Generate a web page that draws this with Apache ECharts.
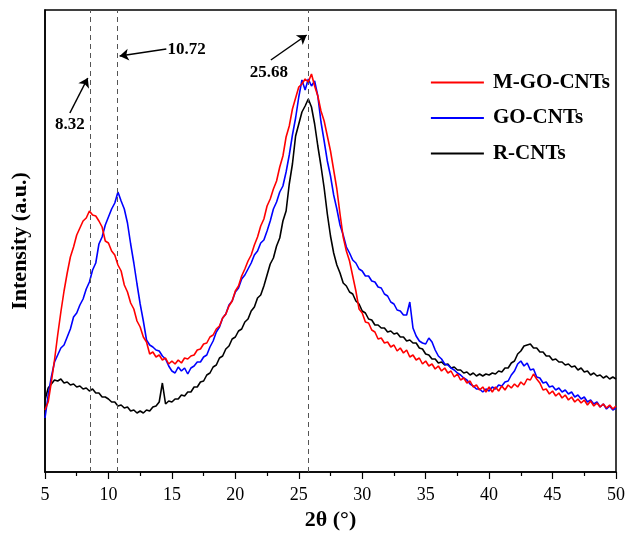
<!DOCTYPE html>
<html>
<head>
<meta charset="utf-8">
<script src="https://cdn.jsdelivr.net/npm/echarts@6/dist/echarts.min.js"></script>
<style>html,body{margin:0;padding:0;background:#fff}#c{width:628px;height:536px}</style>
</head>
<body>
<div id="c"></div>
<script>
// 2θ sampling grid (degrees)
const twoTheta = [
 5.0,5.25,5.5,5.75,6.0,6.25,6.5,6.75,7.0,7.25,7.5,7.75,8.0,8.25,8.5,8.75,9.0,9.25,9.5,9.75,
 10.0,10.25,10.5,10.75,11.0,11.25,11.5,11.75,12.0,12.25,12.5,12.75,13.0,13.25,13.5,13.75,14.0,14.25,14.5,14.75,
 15.0,15.25,15.5,15.75,16.0,16.25,16.5,16.75,17.0,17.25,17.5,17.75,18.0,18.25,18.5,18.75,19.0,19.25,19.5,19.75,
 20.0,20.25,20.5,20.75,21.0,21.25,21.5,21.75,22.0,22.25,22.5,22.75,23.0,23.25,23.5,23.75,24.0,24.25,24.5,24.75,
 25.0,25.25,25.5,25.75,26.0,26.25,26.5,26.75,27.0,27.25,27.5,27.75,28.0,28.25,28.5,28.75,29.0,29.25,29.5,29.75,
 30.0,30.25,30.5,30.75,31.0,31.25,31.5,31.75,32.0,32.25,32.5,32.75,33.0,33.25,33.5,33.75,34.0,34.25,34.5,34.75,
 35.0,35.25,35.5,35.75,36.0,36.25,36.5,36.75,37.0,37.25,37.5,37.75,38.0,38.25,38.5,38.75,39.0,39.25,39.5,39.75,
 40.0,40.25,40.5,40.75,41.0,41.25,41.5,41.75,42.0,42.25,42.5,42.75,43.0,43.25,43.5,43.75,44.0,44.25,44.5,44.75,
 45.0,45.25,45.5,45.75,46.0,46.25,46.5,46.75,47.0,47.25,47.5,47.75,48.0,48.25,48.5,48.75,49.0,49.25,49.5,49.75,
 50.0
];
// Intensities (a.u.)
const mGoCnts = [
 62,70,90,112,137,160,181,199,215,225,237,244,251,254,261,257,256,251,245,231,
 229,221,217,207,201,187,180,169,163,151,145,135,130,118,120,115,117,112,114,108,
 111,108,112,109,114,113,116,117,122,123,128,129,135,137,143,146,154,158,166,171,
 181,186,196,203,211,217,227,235,246,253,266,273,283,291,305,316,335,346,363,374,
 385,388,393,390,398,386,376,361,351,336,321,302,283,258,235,221,211,196,181,163,
 159,150,149,142,140,133,134,129,130,125,127,121,124,119,122,115,117,112,114,108,
 111,106,108,103,106,101,104,99,101,95,98,92,94,89,91,85,87,82,85,80,
 85,80,85,81,86,82,87,84,88,85,90,87,93,92,98,93,89,82,83,78,
 81,76,79,74,77,72,75,70,73,69,72,67,71,66,69,65,68,64,67,63,
 66
];
const goCnts = [
 54,77,95,110,117,124,127,135,143,155,159,167,173,183,190,202,209,228,235,247,
 255,263,269,280,271,263,249,228,209,188,168,151,132,127,125,122,121,116,113,106,
 101,99,105,101,104,98,104,106,110,110,115,117,125,131,140,145,154,158,167,171,
 180,184,193,197,203,209,217,221,229,232,241,251,263,270,280,286,300,317,337,354,
 375,392,382,393,386,391,376,350,331,311,296,277,263,247,237,225,219,212,209,203,
 201,196,196,191,190,185,184,178,176,170,168,162,161,157,157,170,144,136,131,129,
 128,134,130,122,116,113,108,107,104,102,99,97,94,92,88,86,83,83,80,83,
 81,85,83,87,86,90,91,97,101,108,111,106,109,102,103,95,94,89,90,85,
 86,82,84,80,82,78,80,75,77,73,75,70,72,68,70,65,68,63,66,62,
 64
];
const rCnts = [
 72,84,88,92,91,93,89,90,87,88,85,86,83,84,81,83,79,79,75,75,
 73,70,70,66,67,64,65,61,62,59,61,59,62,61,65,66,70,89,68,71,
 70,73,73,77,76,80,80,85,85,90,91,97,99,105,107,114,116,123,126,133,
 135,141,143,150,153,161,165,174,177,186,197,208,214,226,234,251,261,288,308,336,
 348,360,366,373,365,348,326,306,284,258,236,219,207,199,189,186,180,178,171,168,
 161,159,153,152,147,147,144,144,140,141,138,139,135,135,131,132,129,129,124,123,
 118,117,113,113,109,110,107,108,104,105,102,102,99,100,97,99,96,98,96,98,
 97,99,98,101,100,104,104,109,111,118,121,126,127,128,124,124,120,120,116,116,
 112,113,110,110,107,108,105,106,102,104,100,101,97,99,96,97,94,96,93,95,
 93
];
const seriesNames = ['M-GO-CNTs', 'GO-CNTs', 'R-CNTs'];
const seriesColors = ['#ff0000', '#0000ff', '#000000'];
const seriesValues = [mGoCnts, goCnts, rCnts];
// reference lines (2θ positions) and their annotation labels
const refLines = [8.55, 10.72, 25.77];
const refLabels = ['8.32', '10.72', '25.68'];
// annotation arrows: [fromX, fromY, toX, toY], label anchor [x, y]
const arrows = [[6.96, 359, 8.37, 394], [14.56, 423, 10.88, 416], [22.8, 412, 25.62, 437]];
const labelAnchors = [[6.96, 347], [16.17, 422], [22.64, 399]];

const FONT = '"Liberation Serif", "Times New Roman", serif';
const chart = echarts.init(document.getElementById('c'));

const series = seriesNames.map((name, i) => ({
  name: name,
  type: 'line',
  symbol: 'none',
  color: seriesColors[i],
  lineStyle: { width: 1.6, color: seriesColors[i] },
  data: twoTheta.map((x, k) => [x, seriesValues[i][k]]),
  z: 3 - i + 2
}));

series[2].markLine = {
  silent: true,
  symbol: 'none',
  label: { show: false },
  lineStyle: { type: [5, 4], color: '#555', width: 1 },
  data: refLines.map(v => ({ xAxis: v }))
};
series[1].markLine = {
  silent: true,
  symbol: ['none', 'arrow'],
  symbolSize: 9,
  label: { show: false },
  lineStyle: { type: 'solid', color: '#000', width: 1.5 },
  data: arrows.map(a => [{ coord: [a[0], a[1]] }, { coord: [a[2], a[3]] }])
};
series[0].markPoint = {
  silent: true,
  symbol: 'rect',
  symbolSize: 1,
  itemStyle: { color: 'rgba(0,0,0,0)' },
  label: { show: true, position: 'inside', color: '#000', fontFamily: FONT, fontWeight: 'bold', fontSize: 17 },
  data: labelAnchors.map((p, i) => ({ coord: p, value: refLabels[i], label: { formatter: refLabels[i] } }))
};

chart.setOption({
  animation: false,
  backgroundColor: '#fff',
  grid: { left: 45, right: 9, top: 10, bottom: 64, show: true, borderColor: '#000', borderWidth: 1.5 },
  legend: {
    left: 425, top: 67, orient: 'vertical',
    itemWidth: 53, itemHeight: 20, itemGap: 14.5,
    data: seriesNames,
    itemStyle: { opacity: 0 },
    lineStyle: { width: 1.8 },
    textStyle: { fontFamily: FONT, fontWeight: 'bold', fontSize: 21, color: '#000', lineHeight: 20, padding: [0, 0, 0, 4] }
  },
  xAxis: {
    type: 'value', min: 5, max: 50, interval: 5,
    name: '2θ (°)', nameLocation: 'middle', nameGap: 36,
    nameTextStyle: { fontFamily: FONT, fontWeight: 'bold', fontSize: 22, color: '#000' },
    axisLine: { lineStyle: { color: '#000', width: 1.5 } },
    axisTick: { show: true, length: 7, lineStyle: { color: '#000', width: 1.2 } },
    minorTick: { show: true, splitNumber: 2, length: 4, lineStyle: { color: '#000', width: 1.2 } },
    axisLabel: { fontFamily: FONT, fontSize: 18, color: '#000', margin: 14 },
    splitLine: { show: false }
  },
  yAxis: {
    type: 'value', min: 0, max: 462,
    name: 'Intensity (a.u.)', nameLocation: 'middle', nameGap: 14,
    nameTextStyle: { fontFamily: FONT, fontWeight: 'bold', fontSize: 22, color: '#000' },
    axisLine: { show: true, lineStyle: { color: '#000', width: 1.5 } },
    axisTick: { show: false }, axisLabel: { show: false }, splitLine: { show: false }
  },
  series: series
});
</script>
</body>
</html>
